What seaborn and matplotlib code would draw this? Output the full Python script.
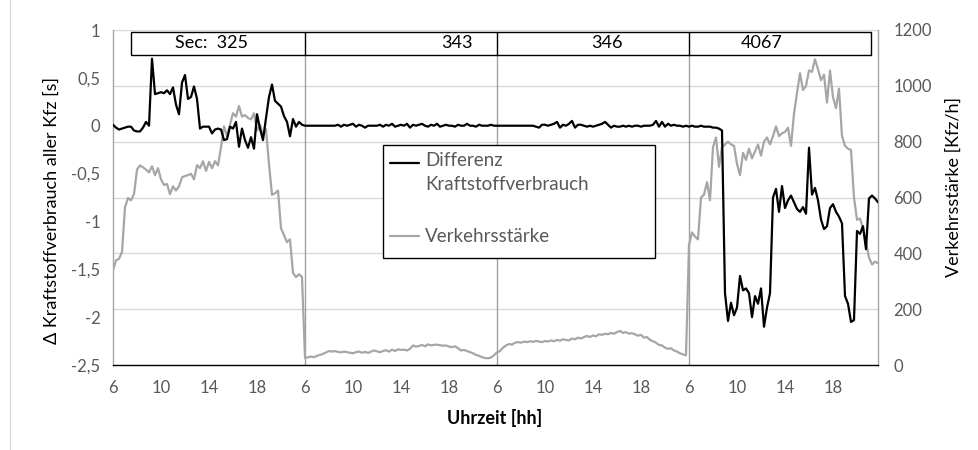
import numpy as np
import pandas as pd
import matplotlib
matplotlib.use("Agg")
import matplotlib.pyplot as plt
import seaborn as sns
from matplotlib.lines import Line2D
from matplotlib.patches import Rectangle

sns.set_theme(style="white")
plt.rcParams['font.family'] = ['Lato', 'DejaVu Sans']

# ---------------- data ----------------
hour_labels = ["6", "10", "14", "18"]
section_labels = ["Sec:  325", "343", "346", "4067"]

# Differenz Kraftstoffverbrauch [s], 15-min values 6:00-22:00 per section
diff_day1 = [0.01, -0.02, -0.04, -0.03, -0.02, -0.01, -0.01, -0.05, -0.06, -0.06,
             -0.02, 0.04, 0.00, 0.70, 0.33, 0.34, 0.35, 0.34, 0.37, 0.33,
             0.40, 0.22, 0.12, 0.45, 0.53, 0.28, 0.30, 0.41, 0.28, -0.03,
             -0.01, -0.01, -0.01, -0.08, -0.04, -0.03, -0.04, -0.15, -0.14, -0.01,
             -0.03, 0.04, -0.22, -0.03, -0.15, -0.23, -0.12, -0.24, 0.12, -0.03,
             -0.15, 0.08, 0.30, 0.43, 0.26, 0.23, 0.20, 0.10, 0.04, -0.11,
             0.07, -0.01, 0.04, 0.01]
diff_day2 = [0, 0, 0, 0, 0, 0, 0, 0, 0, 0,
             0, 0.01, -0.01, 0.01, 0, 0.01, 0.02, -0.01, 0.01, 0,
             -0.02, 0, 0, 0, 0, 0.01, -0.01, 0.01, 0, 0.02,
             -0.01, 0, 0.01, 0, 0.02, -0.02, 0.01, 0, 0.01, 0.02,
             0, -0.01, 0.01, 0, 0.02, -0.01, 0, 0.01, 0, 0,
             -0.01, 0.01, 0, 0, 0.02, 0, 0, -0.01, 0.01, 0,
             0, 0, 0.01, 0]
diff_day3 = [0, 0, 0, 0, 0, 0, 0, 0, 0, 0,
             0, 0, 0, -0.01, -0.02, 0.01, 0.01, 0, 0.01, 0.02,
             0.04, -0.02, 0.01, 0, 0.02, 0.05, -0.02, 0.01, 0.01, 0,
             -0.01, 0, -0.01, 0, 0.01, 0.02, 0.04, 0.01, -0.02, 0,
             -0.01, -0.01, 0, -0.01, 0, -0.01, 0, 0, -0.01, 0,
             0, 0, 0.01, 0.05, -0.01, 0.04, -0.01, 0.02, 0, 0.01,
             0, 0, -0.01, 0]
diff_day4 = [-0.01, 0, -0.01, -0.01, 0, -0.01, -0.01, -0.01, -0.02, -0.02,
             -0.03, -0.05, -1.75, -2.04, -1.85, -1.98, -1.90, -1.57, -1.72, -1.70,
             -1.75, -2.00, -1.78, -1.86, -1.70, -2.10, -1.90, -1.75, -0.75, -0.66,
             -0.90, -0.63, -0.86, -0.78, -0.73, -0.80, -0.87, -0.90, -0.85, -0.92,
             -0.23, -0.72, -0.65, -0.78, -0.98, -1.08, -1.05, -0.86, -0.82, -0.90,
             -0.95, -1.02, -1.78, -1.86, -2.05, -2.03, -1.10, -1.13, -1.05, -1.29,
             -0.76, -0.73, -0.76, -0.80]

# Verkehrsstaerke [Kfz/h]
traffic_day1 = [340, 375, 380, 405, 565, 598, 590, 612, 700, 715,
                708, 700, 690, 712, 680, 705, 665, 645, 648, 612,
                640, 625, 640, 672, 677, 680, 685, 665, 716, 705,
                730, 695, 728, 705, 730, 715, 780, 855, 820, 860,
                902, 890, 928, 890, 895, 885, 880, 902, 840, 860,
                825, 845, 720, 610, 615, 625, 490, 465, 440, 450,
                330, 315, 325, 315]
traffic_day2 = [25, 28, 30, 28, 33, 36, 40, 45, 50, 48,
                50, 47, 45, 48, 46, 44, 42, 46, 48, 44,
                47, 43, 48, 52, 49, 46, 50, 53, 48, 55,
                50, 56, 54, 55, 52, 58, 70, 66, 68, 72,
                67, 74, 70, 72, 73, 71, 69, 70, 66, 64,
                67, 60, 52, 54, 50, 46, 42, 36, 33, 28,
                25, 24, 27, 35]
traffic_day3 = [45, 50, 62, 70, 75, 73, 80, 82, 80, 84,
                82, 85, 83, 86, 84, 82, 86, 84, 88, 85,
                90, 87, 92, 90, 88, 95, 92, 98, 95, 100,
                104, 100, 106, 103, 110, 108, 112, 110, 115, 112,
                118, 122, 115, 118, 112, 114, 110, 105, 108, 98,
                100, 90, 85, 80, 72, 70, 62, 58, 60, 52,
                48, 42, 38, 35]
traffic_day4 = [430, 475, 460, 450, 600, 610, 655, 590, 780, 815,
                710, 780, 790, 800, 790, 785, 720, 680, 760, 735,
                775, 740, 765, 790, 750, 800, 815, 790, 820, 855,
                820, 830, 835, 850, 785, 900, 975, 1045, 985, 1000,
                1055, 1050, 1095, 1060, 1020, 1040, 940, 1055, 960, 920,
                990, 820, 785, 775, 770, 600, 520, 525, 490, 440,
                385, 360, 370, 365]

diff = diff_day1 + diff_day2 + diff_day3 + diff_day4
traffic = traffic_day1 + traffic_day2 + traffic_day3 + traffic_day4
n = min(len(diff), len(traffic))
df = pd.DataFrame({"idx": np.arange(n), "diff": diff[:n], "traffic": traffic[:n]})
per_day = len(diff_day1)
n_days = 4

# ---------------- figure ----------------
W, H = 979, 450
fig = plt.figure(figsize=(W / 100, H / 100), dpi=100)
fig.patch.set_facecolor("white")
ax = fig.add_axes([113 / W, 1 - 365 / H, 765 / W, 335 / H])
ax2 = ax.twinx()

grey = "#a6a6a6"
tick_col = "#595959"
fs_tick = 12
fs_title = 13
fs_leg = 13.5
fs_sec = 13

sns.lineplot(data=df, x="idx", y="traffic", ax=ax2, color=grey, linewidth=1.6, zorder=3)
sns.lineplot(data=df, x="idx", y="diff", ax=ax, color="black", linewidth=1.6, zorder=3)

ax.set_zorder(ax2.get_zorder() + 1)
ax.patch.set_visible(False)

# axes limits / ticks
ax.set_xlim(0, n - 1)
ax.set_ylim(-2.5, 1)
ax2.set_ylim(0, 1200)

yt = np.arange(-2.5, 1.01, 0.5)
ax.set_yticks(yt)
ax.set_yticklabels([f"{v:g}".replace(".", ",") for v in yt])
yt2 = np.arange(0, 1201, 200)
ax2.set_yticks(yt2)
ax2.set_yticklabels([str(v) for v in yt2])

step = per_day // len(hour_labels)
ax.set_xticks(np.arange(0, n_days * per_day, step))
ax.set_xticklabels(hour_labels * n_days)
ax.set_xticks(list(range(0, n_days * per_day, per_day // 2)) + [n - 1], minor=True)

ax.tick_params(axis="x", which="major", length=0, pad=11, labelsize=fs_tick, labelcolor=tick_col)
ax.tick_params(axis="x", which="minor", length=5, width=1, color="black", direction="out")
ax.tick_params(axis="y", length=0, pad=9, labelsize=fs_tick, labelcolor=tick_col)
ax2.tick_params(axis="y", length=0, pad=11, labelsize=fs_tick, labelcolor=tick_col)

ax.set_xlabel("")
ax.set_ylabel("")
ax2.set_ylabel("")
ax.grid(False)
ax2.grid(False)
ax2.yaxis.grid(True, color="#d9d9d9", linewidth=1)
ax2.set_axisbelow(True)

for s in ["top", "right"]:
    ax.spines[s].set_visible(False)
ax.spines["left"].set_color(grey)
ax.spines["left"].set_linewidth(1)
ax.spines["bottom"].set_color("black")
ax.spines["bottom"].set_linewidth(1)
for s in ["top", "left", "bottom"]:
    ax2.spines[s].set_visible(False)
ax2.spines["right"].set_color(grey)
ax2.spines["right"].set_linewidth(1)

# section box at top
box_x0 = (131 - 113) / 765 * (n - 1)
box_x1 = (871 - 113) / 765 * (n - 1)
box_y0 = (365 - 55) / 335
box_y1 = (365 - 32) / 335
trans = ax.get_xaxis_transform()
ax2.add_patch(Rectangle((box_x0, box_y0), box_x1 - box_x0, box_y1 - box_y0,
                        transform=ax2.get_xaxis_transform(), fill=False,
                        edgecolor="black", linewidth=1, zorder=2))
for d in range(1, n_days):
    ax2.axvline(d * per_day, ymin=0, ymax=box_y0, color="#a0a0a0", linewidth=1, zorder=1)
    ax2.axvline(d * per_day, ymin=box_y0, ymax=box_y1, color="black", linewidth=1, zorder=2)

label_x = [32.7, 114.7, 164.7, 216.3]
for lx, lab in zip(label_x, section_labels):
    ax2.text(lx, (box_y0 + box_y1) / 2, lab, transform=trans, ha="center", va="center",
             fontsize=fs_sec, color="black", zorder=4)

# axis titles
fig.text(52 / W, 1 - 210 / H, "Δ Kraftstoffverbrauch aller Kfz [s]", rotation=90,
         ha="center", va="center", fontsize=fs_title, color="black")
fig.text(954 / W, 1 - 187 / H, "Verkehrsstärke [Kfz/h]", rotation=90,
         ha="center", va="center", fontsize=fs_title, color="black")
fig.text(495 / W, 1 - 418 / H, "Uhrzeit [hh]", ha="center", va="center",
         fontsize=fs_title, fontweight="bold", color="black")

# legend (manual, Excel-like box)
fig.add_artist(Rectangle((383 / W, 1 - 258 / H), 272 / W, 113 / H, transform=fig.transFigure,
                         fill=True, facecolor="white", edgecolor="black", linewidth=1, zorder=5))
fig.add_artist(Line2D([390 / W, 419 / W], [1 - 163 / H] * 2, transform=fig.transFigure,
                      color="black", linewidth=1.6, zorder=6))
fig.add_artist(Line2D([390 / W, 419 / W], [1 - 236 / H] * 2, transform=fig.transFigure,
                      color=grey, linewidth=1.6, zorder=6))
fig.text(425 / W, 1 - 161 / H, "Differenz", ha="left", va="center", fontsize=fs_leg,
         color=tick_col, zorder=7)
fig.text(425 / W, 1 - 185 / H, "Kraftstoffverbrauch", ha="left", va="center", fontsize=fs_leg,
         color=tick_col, zorder=7)
fig.text(425 / W, 1 - 236 / H, "Verkehrsstärke", ha="left", va="center", fontsize=fs_leg,
         color=tick_col, zorder=7)

# chart outer border (left edge visible)
fig.add_artist(Line2D([10 / W, 10 / W], [0, 1], transform=fig.transFigure,
                      color="#d9d9d9", linewidth=1))

fig.savefig("out.png", dpi=100, facecolor="white")
